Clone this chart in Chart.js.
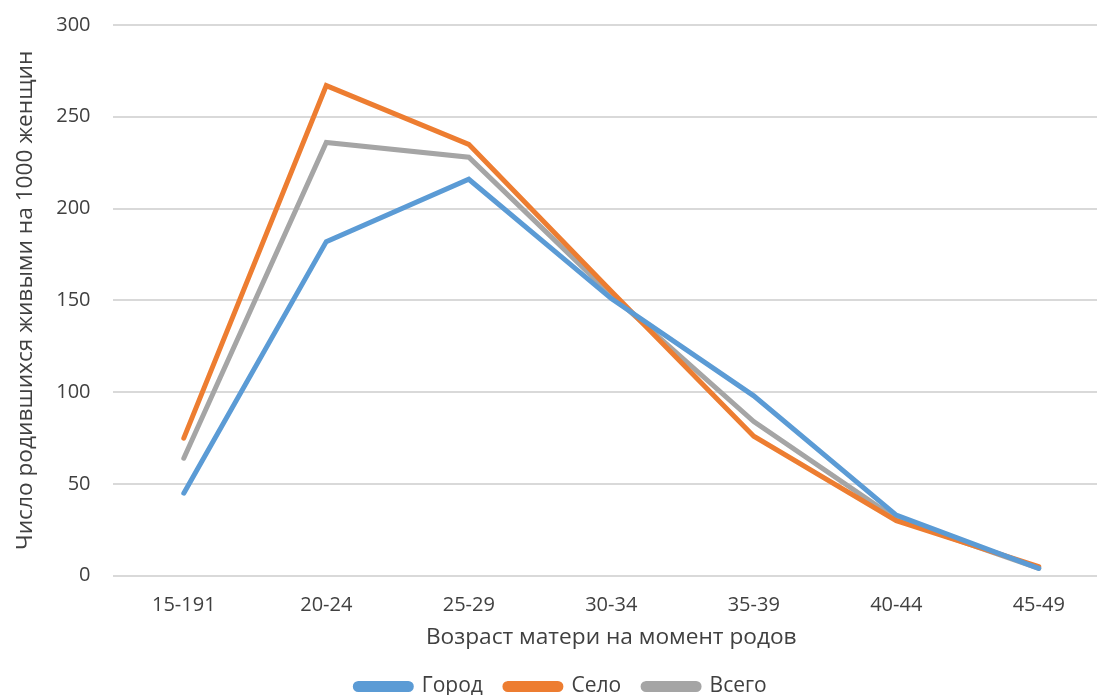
<!DOCTYPE html>
<html>
<head>
<meta charset="utf-8">
<script src="https://cdn.jsdelivr.net/npm/chart.js@4/dist/chart.umd.min.js"></script>
<style>
    html, body { margin: 0; padding: 0; background: #fff; overflow: hidden; }
    #wrap { width: 1110px; height: 707px; }
</style>
</head>
<body>
<div id="wrap"><canvas id="fertilityChart"></canvas></div>
<script>
// Возрастные группы и значения (на 1000 женщин)
const ageGroups = ["15-191", "20-24", "25-29", "30-34", "35-39", "40-44", "45-49"];
const cityValues = [45, 182, 216, 151, 98, 33, 4];
const villageValues = [75, 267, 235, 155, 76, 30, 5];
const totalValues = [64, 236, 228, 153, 84, 31, 4];
const yTicks = [0, 50, 100, 150, 200, 250, 300];

const textColor = "#404040";

function makeLine(label, values, color) {
    return {
        label: label,
        data: values,
        borderColor: color,
        backgroundColor: color,
        borderWidth: 5,
        pointRadius: 0,
        tension: 0,
        borderCapStyle: "round",
        borderJoinStyle: "miter",
    };
}

const ctx = document.getElementById("fertilityChart");
new Chart(ctx, {
    type: "line",
    data: {
        labels: ageGroups,
        datasets: [
            makeLine("Город", cityValues, "#5B9BD5"),
            makeLine("Село", villageValues, "#ED7D31"),
            makeLine("Всего", totalValues, "#A5A5A5"),
        ],
    },
    options: {
        responsive: true,
        maintainAspectRatio: false,
        animation: false,
        layout: { padding: { top: 0, left: 12, right: 0, bottom: 0 } },
        plugins: {
            legend: {
                position: "bottom",
                labels: {
                    color: textColor,
                    font: { family: "Open Sans", size: 21 },
                    boxWidth: 56,
                    boxHeight: 6,
                    useBorderRadius: true,
                    borderRadius: 3,
                    padding: 22,
                },
            },
            tooltip: { enabled: false },
        },
        scales: {
            x: {
                offset: true,
                grid: { display: false, drawTicks: false },
                border: { display: false },
                ticks: {
                    color: textColor,
                    font: { family: "Open Sans", size: 20 },
                    padding: 18,
                    maxRotation: 0,
                },
                title: {
                    display: true,
                    text: "Возраст матери на момент родов",
                    color: textColor,
                    font: { family: "Open Sans", size: 22.7 },
                    padding: { top: -12, bottom: 3 },
                },
            },
            y: {
                min: 0,
                max: 300,
                afterBuildTicks: function (axis) {
                    axis.ticks = yTicks.map((v) => ({ value: v }));
                },
                grid: {
                    color: "#d9d9d9",
                    lineWidth: 2,
                    drawTicks: true,
                    tickLength: 9,
                    tickColor: "rgba(0,0,0,0)",
                },
                border: { display: false },
                ticks: {
                    color: textColor,
                    font: { family: "Open Sans", size: 20 },
                    padding: 13,
                },
                title: {
                    display: true,
                    text: "Число родившихся живыми на 1000 женщин",
                    color: textColor,
                    font: { family: "Open Sans", size: 22.7 },
                    padding: { top: 0, bottom: 4 },
                },
            },
        },
    },
});
</script>
</body>
</html>
